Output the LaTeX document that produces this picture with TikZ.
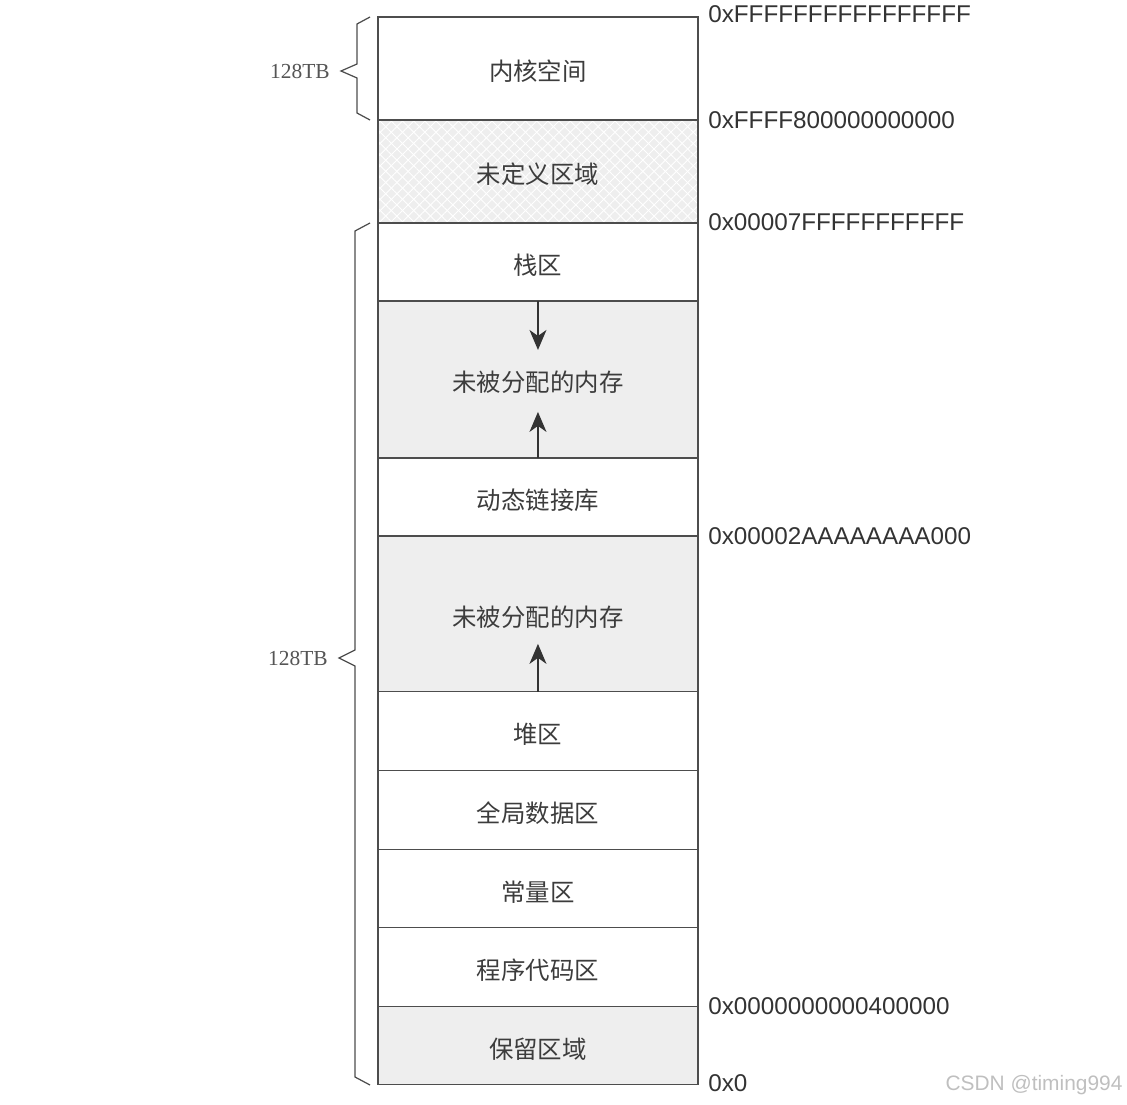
\documentclass[tikz,border=0pt]{standalone}
\usepackage{fontspec}
\setmainfont{Liberation Sans}
\newfontfamily\cjkfont{Noto Sans CJK SC}
\newfontfamily\serifnum{Liberation Serif}
\usetikzlibrary{arrows.meta, positioning, patterns.meta}
\definecolor{linegray}{HTML}{4D4D4D}
\definecolor{textgray}{HTML}{333333}
\definecolor{cjkgray}{HTML}{3C3C3C}
\definecolor{sizegray}{HTML}{555555}
\definecolor{freegray}{HTML}{EEEEEE}

\begin{document}
\begin{tikzpicture}[
    x=0.02cm, y=-0.02cm,
    node distance=0pt,
    seg/.style={rectangle, draw=linegray, line width=0.7pt, minimum width=6.4cm, inner sep=0pt, outer sep=0pt, text=cjkgray, text height=1.4em, text depth=0pt, font=\cjkfont\fontsize{13.9}{16}\selectfont},
    freeseg/.style={seg, fill=freegray},
    undefseg/.style={seg, preaction={fill=freegray},
        preaction={pattern={Lines[angle=45, distance=4.5pt, line width=0.5pt]}, pattern color=white},
        preaction={pattern={Lines[angle=-45, distance=4.5pt, line width=0.5pt]}, pattern color=white}},
    addr/.style={anchor=west, inner sep=0pt, font=\fontsize{13.8}{16}\selectfont, text=textgray},
    sizelabel/.style={font=\serifnum\fontsize{12.2}{14}\selectfont, text=sizegray},
    growarrow/.style={-{Stealth[length=4mm, width=3.4mm, inset=1.2mm]}, line width=0.7pt, draw=textgray, fill=textgray},
    brace/.style={draw=linegray, line width=0.7pt}
]
\useasboundingbox (0,0) rectangle (1127,1105);

% memory segments, top to bottom
\node[seg, minimum height=2.06cm, anchor=north west] (kern) at (378,17) {内核空间};
\node[undefseg, minimum height=2.06cm, below=of kern] (undef) {未定义区域};
\node[seg, minimum height=1.56cm, below=of undef] (stack) {栈区};
\node[freeseg, minimum height=3.14cm, below=of stack] (free1) {未被分配的内存};
\node[seg, minimum height=1.56cm, below=of free1] (dll) {动态链接库};
\node[freeseg, minimum height=3.12cm, below=of dll] (free2) {未被分配的内存};
\node[seg, minimum height=1.58cm, below=of free2] (heap) {堆区};
\node[seg, minimum height=1.58cm, below=of heap] (data) {全局数据区};
\node[seg, minimum height=1.56cm, below=of data] (const) {常量区};
\node[seg, minimum height=1.58cm, below=of const] (code) {程序代码区};
\node[freeseg, minimum height=1.56cm, below=of code] (resv) {保留区域};

% growth arrows
\coordinate (dn1) at ([yshift=-0.98cm]stack.south);
\coordinate (up1) at ([yshift=0.92cm]dll.north);
\coordinate (up2) at ([yshift=0.96cm]heap.north);
\draw[growarrow] (stack.south) -- (dn1);
\draw[growarrow] (dll.north) -- (up1);
\draw[growarrow] (heap.north) -- (up2);

% addresses
\node[addr] (a0) at ([xshift=0.2cm, yshift=0.06cm]kern.north east) {0xFFFFFFFFFFFFFFFF};
\node[addr] (a1) at ([xshift=0.2cm]kern.south east) {0xFFFF800000000000};
\node[addr] (a2) at ([xshift=0.2cm, yshift=0.02cm]stack.north east) {0x00007FFFFFFFFFFF};
\node[addr] (a3) at ([xshift=0.2cm]free2.north east) {0x00002AAAAAAAA000};
\node[addr] (a4) at ([xshift=0.2cm, yshift=0.02cm]resv.north east) {0x0000000000400000};
\node[addr] (a5) at ([xshift=0.2cm, yshift=0.04cm]resv.south east) {0x0};

% sizes
\draw[brace] (370,17) -- (357,24) -- (357,64) -- (341,71) -- (357,78) -- (357,113) -- (370,120);
\node[sizelabel] (ksize) at (300,71) {128TB};
\draw[brace] (370,223) -- (355,231) -- (355,650) -- (339,658) -- (355,666) -- (355,1077) -- (370,1085);
\node[sizelabel] (usize) at (298,658) {128TB};

\node[font=\fontsize{11.9}{14}\selectfont, text=black!25] (mark) at (1034,1085) {CSDN @timing994};
\end{tikzpicture}
\end{document}
